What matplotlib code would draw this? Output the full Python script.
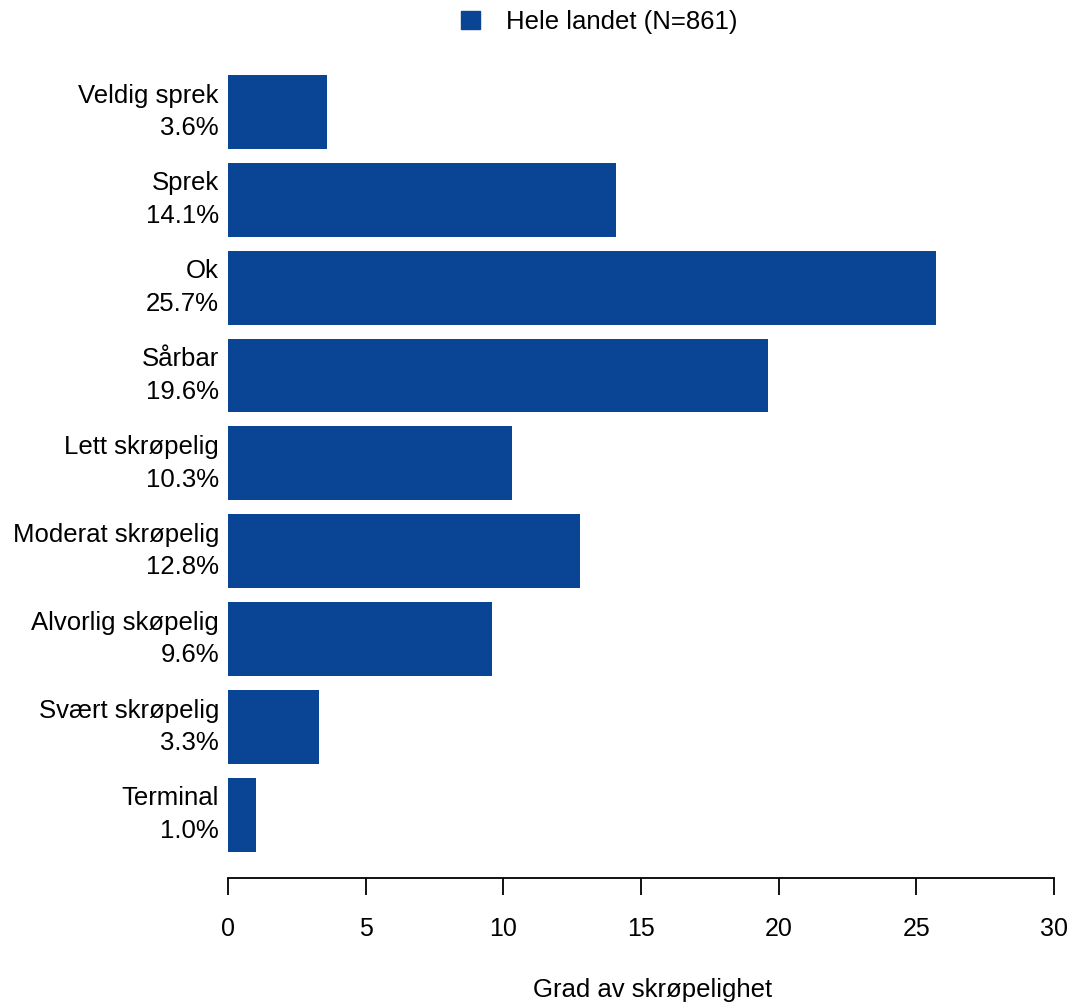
import numpy as np
import matplotlib.pyplot as plt
from matplotlib.patches import Patch

plt.rcParams['font.family'] = ['Liberation Sans', 'DejaVu Sans']

# DATA
categories = ['Veldig sprek', 'Sprek', 'Ok', 'Sårbar', 'Lett skrøpelig',
              'Moderat skrøpelig', 'Alvorlig skøpelig', 'Svært skrøpelig',
              'Terminal']
values = [3.6, 14.1, 25.7, 19.6, 10.3, 12.8, 9.6, 3.3, 1.0]
xticks = [0, 5, 10, 15, 20, 25, 30]
series_name = 'Hele landet (N=861)'
xlabel = 'Grad av skrøpelighet'

col = '#0a4595'
fs = 18.5

fig = plt.figure(figsize=(10.75, 10.07), dpi=100)
ax = fig.add_axes([228 / 1075, 1 - 878 / 1007, 826 / 1075, (878 - 75) / 1007])

ypos = np.arange(len(categories))
ax.barh(ypos, values, height=0.84, color=col)

ax.set_ylim(len(categories) - 1 + 0.72, -0.42)
ax.set_xlim(0, 30)

ylabels = ['{}\n{:.1f}%'.format(c, v) for c, v in zip(categories, values)]
ax.set_yticks(ypos)
ax.set_yticklabels(ylabels, fontsize=fs, linespacing=1.45, va='center')
ax.tick_params(axis='y', length=0, pad=6.5)

ax.set_xticks(xticks)
ax.set_xticklabels([str(t) for t in xticks], fontsize=18)
ax.tick_params(axis='x', length=12, width=1.3, pad=16)

for s in ['left', 'right', 'top']:
    ax.spines[s].set_visible(False)
ax.spines['bottom'].set_linewidth(1.3)

ax.set_xlabel(xlabel, fontsize=fs, labelpad=27)
ax.xaxis.label.set_x(0.5145)

fig.legend(handles=[Patch(color=col)], labels=[series_name],
           loc='center', bbox_to_anchor=(0.557, 1 - 22 / 1007),
           frameon=False, fontsize=fs, handlelength=0.75, handleheight=0.75,
           handletextpad=1.0)

fig.savefig('out.png', dpi=100)
